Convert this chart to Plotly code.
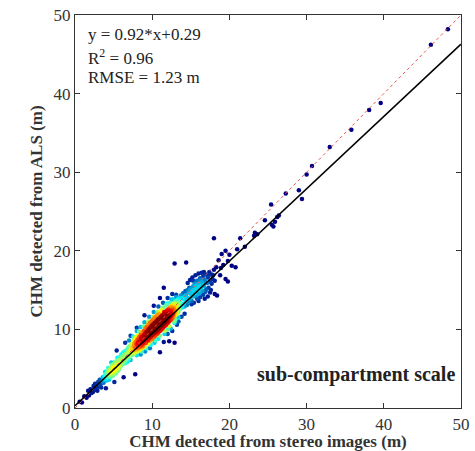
import numpy as np
import plotly.graph_objects as go

# ---------------- data ----------------
# low tail (sparse, dark blue)
low_x = [0.6, 0.9, 1.2, 1.5, 1.7, 1.8, 2.0, 2.1, 2.3, 2.4, 2.5, 2.6, 2.7, 2.8, 2.9, 3.0, 3.1, 3.2, 3.3, 3.4, 3.5, 3.6, 3.7, 4.0, 3.8]
low_y = [0.8, 0.7, 1.5, 1.3, 2.2, 1.6, 2.4, 1.9, 2.0, 2.8, 2.3, 3.1, 2.5, 2.9, 2.2, 3.3, 2.7, 3.6, 3.0, 2.6, 3.4, 3.9, 3.2, 2.5, 3.6]

# lower shoulder (cyan)
shoulder_x = [3.9, 4.0, 4.1, 4.2, 4.3, 4.3, 4.4, 4.5, 4.5, 4.6, 4.7, 4.7, 4.8, 4.9, 4.9, 5.0, 5.0, 5.1, 5.1, 5.2, 5.2, 5.3, 5.3, 5.4, 5.4, 5.5, 5.5, 5.6, 5.6,
              3.6, 3.8, 4.0, 4.2, 4.4, 4.6, 4.8, 5.0, 5.2, 5.4, 5.6, 4.1, 4.5, 4.9, 5.3, 5.7, 4.3, 4.7, 3.9, 5.5]
shoulder_y = [4.1, 3.7, 4.4, 3.9, 4.6, 4.1, 3.6, 4.8, 4.3, 3.9, 5.1, 4.5, 4.2, 5.3, 4.7, 4.4, 5.6, 4.9, 3.3, 5.2, 4.6, 5.8, 4.9, 5.4, 7.3, 4.7, 5.9, 5.3, 5.0,
              3.4, 4.0, 4.3, 4.7, 4.9, 4.6, 5.5, 5.1, 5.9, 5.0, 6.0, 3.5, 4.0, 4.1, 4.4, 4.9, 5.1, 5.8, 4.6, 6.4]

# rising side of the cluster (yellow / orange)
rise_x = [5.7, 5.7, 5.8, 5.8, 5.9, 6.0, 6.0, 6.0, 6.1, 6.1, 6.2, 6.2, 6.3, 6.3, 6.3, 6.4, 6.4, 6.5, 6.5, 6.6,
          6.6, 6.7, 6.7, 6.8, 6.8, 6.9, 6.9, 7.0, 7.0, 7.0, 7.1, 7.1, 7.2, 7.2, 7.3, 7.3, 7.4, 7.4, 7.5, 7.5]
rise_y = [6.1, 5.5, 5.2, 6.5, 5.8, 6.2, 5.4, 6.8, 5.9, 6.5, 5.6, 7.0, 6.2, 3.9, 6.7, 5.9, 7.2, 6.4, 5.7, 6.9,
          6.1, 7.4, 6.5, 5.9, 7.0, 6.6, 7.7, 6.3, 7.2, 6.8, 7.9, 6.6, 7.4, 6.1, 7.0, 8.1, 7.6, 6.7, 7.3, 8.3]

# dense core (red)
core_x = [7.6, 7.7, 7.6, 7.65, 7.7, 7.8, 7.85, 7.8, 7.9, 7.9, 8.0, 8.05, 8.1, 8.0, 8.1,
          8.2, 8.25, 8.3, 8.2, 8.3, 8.4, 8.45, 8.5, 8.4, 8.5, 8.6, 8.65, 8.7, 8.6, 8.7,
          8.8, 8.85, 8.9, 8.8, 8.9, 9.0, 9.05, 9.1, 9.0, 9.1, 9.0, 9.2, 9.25, 9.3, 9.2, 9.3,
          9.4, 9.45, 9.5, 9.4, 9.5, 9.45, 9.6, 9.65, 9.7, 9.6, 9.7, 9.8, 9.85, 9.9, 9.8, 9.9, 9.85,
          10.0, 10.05, 10.1, 10.0, 10.1, 10.05, 10.2, 10.25, 10.3, 10.2, 10.3, 10.25,
          10.4, 10.45, 10.5, 10.4, 10.5, 10.45, 10.6, 10.65, 10.7, 10.6, 10.7, 10.65,
          10.8, 10.85, 10.9, 10.8, 10.9, 10.85, 11.0, 11.05, 11.1, 11.0, 11.1, 11.05,
          11.2, 11.25, 11.3, 11.2, 11.3, 11.25, 11.4, 11.45, 11.5, 11.4, 11.5, 11.45,
          11.6, 11.65, 11.7, 11.6, 11.7, 11.8, 11.85, 11.9, 11.8, 11.9, 11.85,
          12.0, 12.05, 12.1, 12.0, 12.1, 12.2, 12.25, 12.3, 12.2, 12.3, 12.4, 12.45, 12.5, 12.4, 12.5,
          12.6, 12.65, 12.7, 12.6, 12.7, 12.8, 12.85, 12.9, 12.8, 12.9, 13.0, 13.05, 13.1, 13.0, 13.1,
          13.2, 13.25, 13.3, 13.2, 13.4, 13.45, 13.5, 13.4]
core_y = [7.9, 6.9, 8.6, 7.4, 8.2, 7.1, 8.4, 7.7, 8.9, 7.4, 8.1, 7.2, 8.7, 7.7, 9.2,
          7.6, 8.4, 9.0, 8.0, 7.3, 8.6, 7.8, 9.3, 8.2, 7.5, 9.0, 8.0, 8.6, 9.6, 7.7,
          8.3, 9.2, 8.8, 7.9, 9.8, 9.0, 8.2, 9.5, 8.6, 10.1, 7.8, 8.8, 9.7, 9.2, 8.3, 10.3,
          9.4, 8.6, 10.0, 9.0, 8.2, 10.6, 9.6, 8.9, 10.2, 9.2, 10.8, 9.8, 9.1, 10.4, 8.6, 11.0, 9.5,
          10.0, 9.3, 10.6, 8.8, 9.7, 11.2, 10.2, 9.5, 10.8, 9.0, 9.9, 11.4,
          10.4, 9.7, 11.0, 9.2, 10.1, 11.6, 10.6, 9.9, 11.2, 9.4, 10.3, 11.8,
          10.8, 10.1, 11.4, 9.6, 10.5, 12.0, 11.0, 10.3, 11.6, 9.8, 10.7, 12.3,
          11.1, 10.5, 11.8, 10.0, 10.9, 12.5, 11.3, 10.7, 12.0, 10.2, 11.1, 12.8,
          11.5, 10.9, 12.2, 10.4, 11.3, 11.7, 11.1, 12.4, 10.6, 11.5, 13.1,
          11.9, 11.3, 12.6, 10.8, 11.7, 12.1, 11.5, 12.8, 11.0, 13.4, 12.3, 11.7, 13.0, 11.2, 12.0,
          12.5, 11.9, 13.2, 11.4, 13.8, 12.7, 12.1, 13.4, 11.6, 12.4, 12.9, 12.3, 13.6, 11.8, 14.1,
          13.1, 12.5, 13.8, 12.0, 13.3, 12.7, 14.0, 12.2]

# extra core points (edges and fill)
core2_x = [7.7, 8.0, 8.3, 8.6, 8.9, 9.2, 9.5, 9.8, 10.1, 10.4, 10.7, 11.0, 11.3, 11.6, 11.9, 12.2, 12.5, 12.8, 13.1, 13.4,
           8.15, 8.55, 8.95, 9.35, 9.75, 10.15, 10.55, 10.95, 11.35, 11.75, 12.15, 12.55, 12.95,
           9.55, 9.95, 10.35, 10.75, 11.15, 11.55, 11.95]
core2_y = [9.0, 6.7, 9.7, 7.2, 10.4, 7.6, 11.0, 8.0, 11.6, 8.6, 12.2, 9.2, 12.7, 9.8, 13.3, 10.4, 13.8, 11.0, 14.4, 11.5,
           8.3, 8.8, 9.3, 9.7, 10.0, 10.4, 10.8, 11.2, 11.6, 12.0, 12.4, 12.8, 13.2,
           9.3, 10.5, 9.9, 11.3, 10.6, 12.2, 11.0]

# fringe of the cluster (yellow / green)
fringe_x = [12.4, 12.9, 13.4, 13.8, 14.2, 12.0, 13.0, 11.6, 10.8, 10.3, 9.7, 9.1, 8.5,
            8.0, 8.5, 9.0, 9.6, 10.2, 10.8, 11.4, 12.0, 12.6, 7.5, 7.0]
fringe_y = [10.1, 10.8, 11.0, 11.6, 12.0, 10.0, 11.2, 9.4, 8.8, 8.3, 7.6, 7.2, 6.8,
            9.8, 10.3, 10.9, 11.6, 12.2, 12.9, 13.4, 14.0, 14.5, 9.1, 8.6]

# scattered points around the core
around_x = [12.2, 12.9, 11.0, 7.8, 12.0, 13.2, 12.6, 11.5, 8.0, 7.2, 9.0, 10.2, 6.5, 11.0]
around_y = [8.5, 8.3, 7.1, 4.3, 9.4, 10.6, 9.8, 8.4, 10.2, 9.2, 11.8, 13.0, 8.3, 14.0]

# falling side of the cluster (orange / yellow)
fall_x = [13.6, 13.6, 13.7, 13.8, 13.8, 13.9, 14.0, 14.0, 14.1, 14.2, 14.2, 14.3, 14.4, 14.4, 14.5,
          14.6, 14.6, 14.7, 14.8, 14.8, 14.9, 15.0, 15.0, 15.1, 15.2, 15.3, 15.3, 15.4, 15.5, 15.5]
fall_y = [13.6, 12.6, 14.3, 13.1, 14.0, 12.8, 13.9, 14.6, 13.3, 14.2, 12.9, 14.9, 13.7, 14.4, 13.1,
          15.0, 14.0, 13.5, 14.7, 15.3, 13.9, 14.5, 15.1, 13.6, 14.9, 15.5, 14.2, 15.0, 14.6, 15.8]

# upper shoulder (cyan / light blue)
upper_x = [15.6, 15.7, 15.8, 15.9, 16.0, 16.1, 16.2, 16.3, 16.4, 16.5, 16.6, 16.7, 16.8, 16.9,
           17.0, 17.1, 17.2, 17.3, 17.4, 17.5, 17.6, 17.7, 17.8, 18.0, 17.2, 16.8, 16.0,
           14.6, 14.9, 15.2, 15.4, 15.6, 15.8, 16.0, 16.2, 16.4, 16.5, 16.6, 16.9, 17.0, 17.3, 17.5,
           17.7, 17.9, 18.1, 15.1, 15.7, 16.3, 16.7, 15.3, 15.9, 16.1]
upper_y = [15.4, 14.3, 16.2, 15.0, 15.8, 14.6, 16.5, 15.2, 16.0, 14.9, 16.8, 15.5, 16.3, 14.8,
           17.0, 15.9, 16.6, 15.3, 17.3, 16.1, 15.0, 17.0, 16.4, 17.6, 14.2, 13.9, 13.6,
           15.9, 16.3, 16.6, 13.4, 16.9, 13.9, 17.1, 14.1, 17.2, 15.6, 14.4, 16.0, 15.1, 16.9, 14.7,
           15.8, 16.9, 16.2, 13.2, 15.6, 16.3, 17.3, 16.2, 14.5, 15.4]

# sparse high values (dark blue)
high_x = [18.0, 18.1, 18.4, 18.3, 18.6, 18.8, 19.0, 19.5, 19.8, 20.3, 20.8, 19.5, 19.8, 18.9, 19.2,
          20.0, 21.4, 21.0, 22.0, 12.9, 14.4, 11.5,
          23.3, 23.6, 23.2, 24.6, 25.4, 26.4, 26.2, 25.9, 25.5, 25.7, 27.3, 29.4, 29.0, 30.0,
          30.7, 33.0, 35.8, 38.1, 39.6, 46.1, 48.3]
high_y = [21.6, 14.5, 14.3, 17.9, 18.8, 16.9, 19.6, 20.0, 18.7, 18.1, 17.9, 16.4, 16.1, 17.8, 18.2,
          19.5, 21.6, 20.2, 20.5, 18.4, 18.5, 15.3,
          22.3, 22.1, 21.9, 23.9, 25.9, 24.5, 24.3, 23.7, 23.3, 23.1, 27.3, 26.6, 27.7, 29.7,
          30.8, 33.2, 35.4, 37.9, 38.8, 46.2, 48.2]

fit_slope = 0.92
fit_intercept = 0.29
axis_range = [0, 50]
tick_vals = [0, 10, 20, 30, 40, 50]
stats_lines = ["y = 0.92*x+0.29", "R<sup>2</sup> = 0.96", "RMSE = 1.23 m"]
scale_label = "sub-compartment scale"

# ---------------- assemble ----------------
x = np.array(low_x + shoulder_x + rise_x + core_x + core2_x + fringe_x + around_x + fall_x + upper_x + high_x)
y = np.array(low_y + shoulder_y + rise_y + core_y + core2_y + fringe_y + around_y + fall_y + upper_y + high_y)

# point density (Gaussian kernel) for colouring
h = 0.9
d2 = (x[:, None] - x[None, :]) ** 2 + (y[:, None] - y[None, :]) ** 2
dens = np.exp(-d2 / (2 * h * h)).sum(axis=1)
cval = (dens / dens.max()) ** 1.45
order = np.argsort(cval)
x, y, cval = x[order], y[order], cval[order]

serif = "Liberation Serif, Times New Roman, serif"

fig = go.Figure()
fig.add_trace(go.Scatter(
    x=x, y=y, mode="markers",
    marker=dict(size=4.5, color=cval, colorscale="Jet", cmin=0.06, cmax=0.92, line=dict(width=0)),
    showlegend=False, hoverinfo="skip"))

# 1:1 line
fig.add_trace(go.Scatter(x=axis_range, y=axis_range, mode="lines",
                         line=dict(color="#e8524a", width=1, dash="dot"), showlegend=False))
# fitted line
fx = np.array(axis_range, dtype=float)
fig.add_trace(go.Scatter(x=fx, y=fit_slope * fx + fit_intercept, mode="lines",
                         line=dict(color="black", width=1.5), showlegend=False))

axis_common = dict(range=axis_range, tickvals=tick_vals, ticks="inside", ticklen=5,
                   tickcolor="#333", showline=True, linecolor="#333", linewidth=1.2,
                   mirror="ticks", showgrid=False, zeroline=False, ticklabeloverflow="allow",
                   tickfont=dict(family=serif, size=17, color="#333"))

fig.update_layout(
    width=475, height=451,
    margin=dict(l=75, r=5, t=15, b=42),
    plot_bgcolor="white", paper_bgcolor="white",
    xaxis=dict(**axis_common,
               title=dict(text="<b>CHM detected from stereo images (m)</b>", standoff=1,
                          font=dict(family=serif, size=17, color="#333"))),
    yaxis=dict(**axis_common,
               title=dict(text="<b>CHM detected from ALS (m)</b>", standoff=6,
                          font=dict(family=serif, size=17, color="#333"))),
)

for i, (txt, ypix) in enumerate(zip(stats_lines, [35, 57, 78])):
    fig.add_annotation(text=txt, xref="paper", yref="paper",
                       x=11 / 395, y=1 - (ypix - 15) / 394, xanchor="left", yanchor="middle",
                       showarrow=False, font=dict(family=serif, size=17, color="#222"))

fig.add_annotation(text="<b>" + scale_label + "</b>", xref="paper", yref="paper",
                   x=(466 - 75) / 395, y=1 - (375 - 15) / 394, xanchor="right", yanchor="middle",
                   showarrow=False, font=dict(family=serif, size=20, color="#222"))

fig.write_html("out.html")
